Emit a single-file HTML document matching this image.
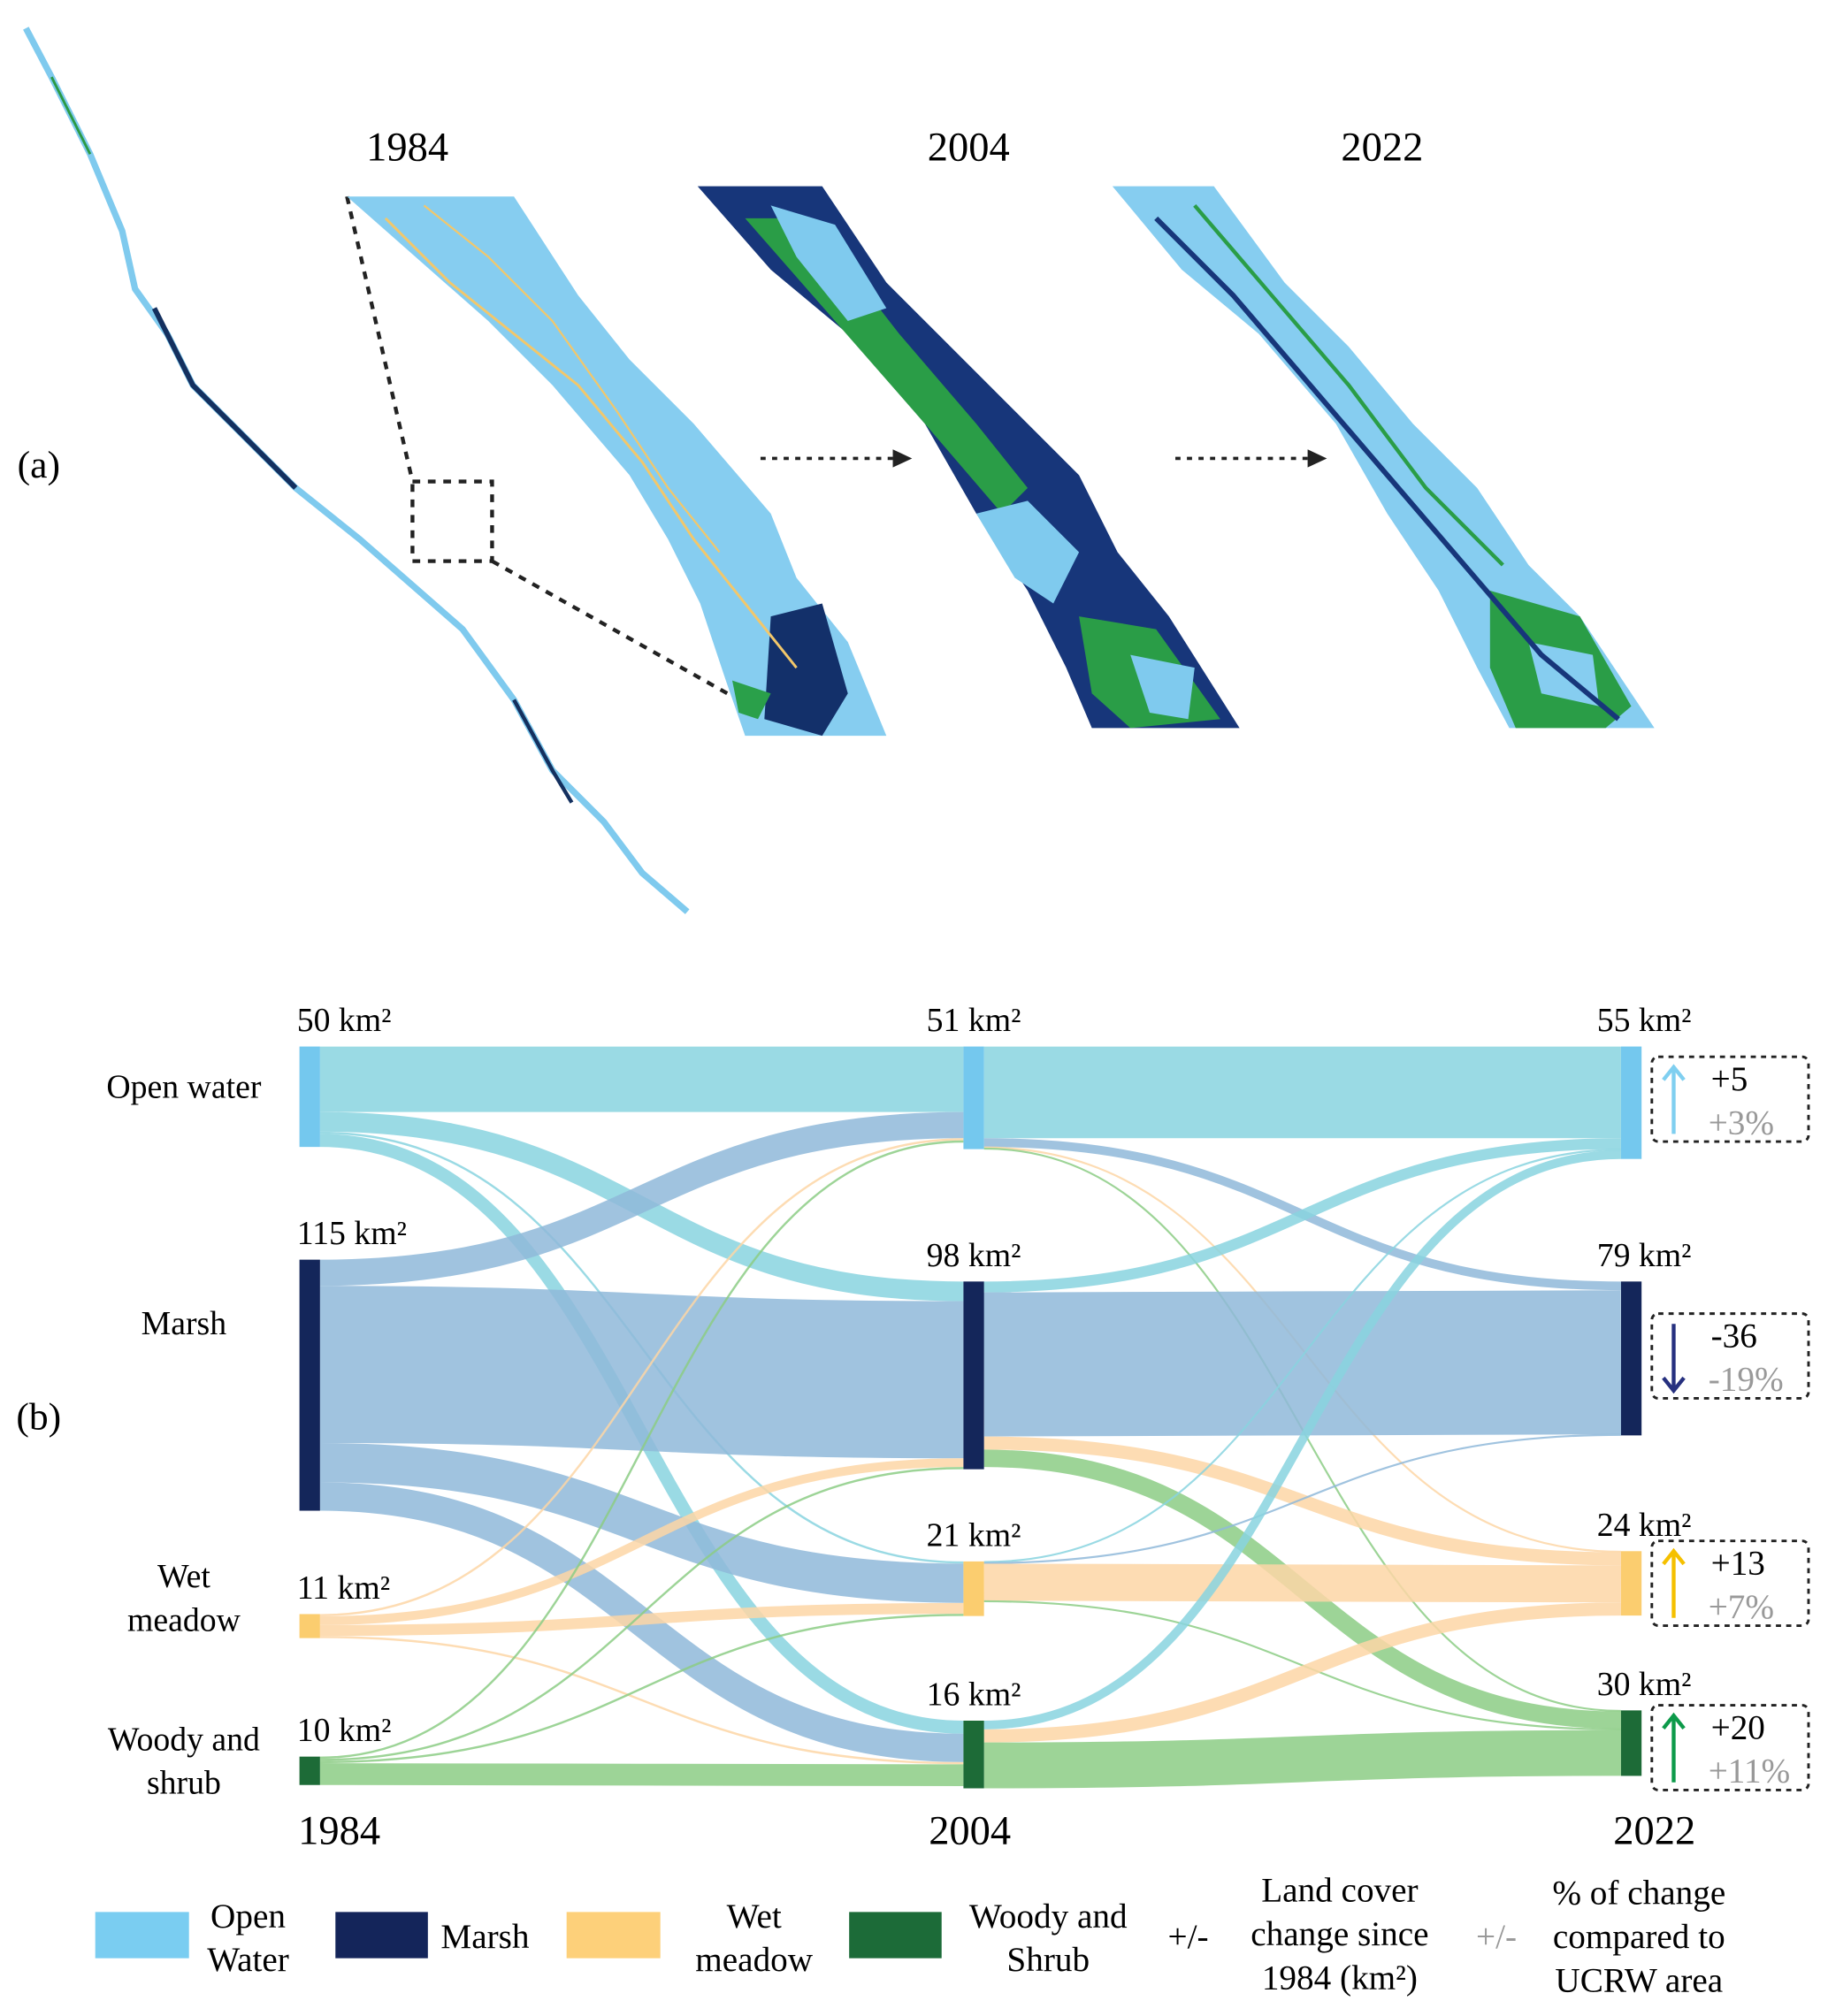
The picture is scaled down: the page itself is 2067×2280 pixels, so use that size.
<!DOCTYPE html>
<html><head><meta charset="utf-8"><style>
html,body{margin:0;padding:0;background:#fff;}
svg{display:block;font-family:"Liberation Serif",serif;}
</style></head><body>
<svg id="fig" width="2067" height="2280" viewBox="0 0 1423 1570" xmlns="http://www.w3.org/2000/svg">
<g id="panel-a">
  <text x="30" y="372" font-size="30" text-anchor="middle">(a)</text>
  <text x="317" y="125" font-size="32" text-anchor="middle">1984</text>
  <text x="754" y="125" font-size="32" text-anchor="middle">2004</text>
  <text x="1076" y="125" font-size="32" text-anchor="middle">2022</text>
  <g>
    <polyline points="20,22 40,60 70,120 95,180 105,225 130,260 150,300 180,330 230,380 280,420 320,455 360,490 400,545 430,600 470,640 500,680 535,710" fill="none" stroke="#7fcaee" stroke-width="5" stroke-linejoin="round"/>
    <polyline points="120,240 150,300 180,330 230,380" fill="none" stroke="#14305f" stroke-width="4"/>
    <polyline points="400,545 430,600 445,625" fill="none" stroke="#14305f" stroke-width="3"/>
    <polyline points="40,60 70,120" fill="none" stroke="#2a9a45" stroke-width="2"/>
  </g>
  <rect x="321" y="375" width="62" height="62" fill="none" stroke="#222" stroke-width="3" stroke-dasharray="6,6"/>
  <line x1="270" y1="153" x2="321" y2="375" stroke="#222" stroke-width="3" stroke-dasharray="6,6"/>
  <line x1="383" y1="437" x2="575" y2="545" stroke="#222" stroke-width="3" stroke-dasharray="6,6"/>
  <g>
    <polygon points="270,153 400,153 450,230 490,280 540,330 600,400 620,450 660,500 690,573 580,573 565,530 545,470 520,420 490,370 430,300 380,250" fill="#86cdf0"/>
    <polygon points="600,480 640,470 660,540 640,573 595,560" fill="#13306a"/>
    <polygon points="570,530 600,540 590,560 575,555" fill="#2aa04a"/>
    <polyline points="300,170 350,220 400,260 450,300 500,360 540,420 580,470 620,520" fill="none" stroke="#f3c76a" stroke-width="2"/>
    <polyline points="330,160 380,200 430,250 480,320 520,380 560,430" fill="none" stroke="#f3c76a" stroke-width="1.5"/>
  </g>
  <g>
    <polygon points="543,145 640,145 690,220 740,270 790,320 840,370 870,430 910,480 965,567 850,567 830,520 800,460 760,400 720,330 660,260 600,210" fill="#17367a"/>
    <polygon points="580,170 630,170 700,260 760,330 800,380 780,400 720,330 650,250" fill="#2a9d47"/>
    <polygon points="600,160 650,175 690,240 660,250 620,200" fill="#7fcaee"/>
    <polygon points="760,400 800,390 840,430 820,470 790,450" fill="#7fcaee"/>
    <polygon points="840,480 900,490 950,560 880,567 850,540" fill="#2a9d47"/>
    <polygon points="880,510 930,520 925,560 895,555" fill="#7fcaee"/>
  </g>
  <g>
    <polygon points="866,145 945,145 1000,220 1050,270 1100,330 1150,380 1190,440 1230,480 1288,567 1175,567 1150,520 1120,460 1080,400 1040,330 980,260 920,210" fill="#86cdf0"/>
    <polygon points="1160,460 1230,480 1270,550 1250,567 1180,567 1160,520" fill="#2a9d47"/>
    <polygon points="1190,500 1240,510 1245,550 1200,540" fill="#86cdf0"/>
    <polyline points="900,170 960,230 1020,300 1080,370 1140,440 1200,510 1260,560" fill="none" stroke="#17367a" stroke-width="4"/>
    <polyline points="930,160 990,230 1050,300 1110,380 1170,440" fill="none" stroke="#2a9d47" stroke-width="3"/>
  </g>
  <line x1="592" y1="357" x2="695" y2="357" stroke="#222" stroke-width="2.5" stroke-dasharray="4,5"/>
  <polygon points="695,350 710,357 695,364" fill="#222"/>
  <line x1="915" y1="357" x2="1018" y2="357" stroke="#222" stroke-width="2.5" stroke-dasharray="4,5"/>
  <polygon points="1018,350 1033,357 1018,364" fill="#222"/>
</g>
<text x="30" y="1113" font-size="30" text-anchor="middle">(b)</text>
<g id="links"></g>
<g id="nodes"></g>
<g id="labels"></g>
<g font-size="26" text-anchor="middle">
  <text x="143" y="855">Open water</text>
  <text x="143" y="1039">Marsh</text>
  <text x="143" y="1236">Wet</text>
  <text x="143" y="1270">meadow</text>
  <text x="143" y="1363">Woody and</text>
  <text x="143" y="1397">shrub</text>
</g>
<g font-size="32">
  <text x="232" y="1436">1984</text>
  <text x="755" y="1436" text-anchor="middle">2004</text>
  <text x="1320" y="1436" text-anchor="end">2022</text>
</g>
<g id="changes" font-size="27"></g>
<g font-size="27">
  <rect x="74" y="1489" width="73" height="36" fill="#7acdf1"/>
  <text x="193" y="1501" text-anchor="middle">Open</text>
  <text x="193" y="1535" text-anchor="middle">Water</text>
  <rect x="261" y="1489" width="72" height="36" fill="#14255a"/>
  <text x="343" y="1517">Marsh</text>
  <rect x="441" y="1489" width="73" height="36" fill="#fdd07a"/>
  <text x="587" y="1501" text-anchor="middle">Wet</text>
  <text x="587" y="1535" text-anchor="middle">meadow</text>
  <rect x="661" y="1489" width="72" height="36" fill="#1c6b38"/>
  <text x="816" y="1501" text-anchor="middle">Woody and</text>
  <text x="816" y="1535" text-anchor="middle">Shrub</text>
  <text x="925" y="1517" text-anchor="middle">+/-</text>
  <text x="1043" y="1481" text-anchor="middle">Land cover</text>
  <text x="1043" y="1515" text-anchor="middle">change since</text>
  <text x="1043" y="1549" text-anchor="middle">1984 (km²)</text>
  <text x="1165" y="1517" text-anchor="middle" fill="#999">+/-</text>
  <text x="1276" y="1483" text-anchor="middle">% of change</text>
  <text x="1276" y="1517" text-anchor="middle">compared to</text>
  <text x="1276" y="1551" text-anchor="middle">UCRW area</text>
</g>
</svg>
<script>
// ---- data ----
const categories = ["open-water","marsh","wet-meadow","woody-shrub"];
const years = ["1984","2004","2022"];
const flows1984to2004 = [[30,9,1,6],[12,72,18,13],[1,4,5,1],[1,1,1,10]];
const flows2004to2022 = [[42,4,0.5,0.5],[5,66,6,8],[0.5,0.5,17,0.5],[4,0,6,21]];
const totals1984 = [50,115,11,10];
const totals2004 = [51,98,21,16];
const totals2022 = [55,79,24,30];
const changeKm = ["+5","-36","+13","+20"];
const changePct = ["+3%","-19%","+7%","+11%"];
// ---- style / layout ----
const NS="http://www.w3.org/2000/svg";
const nodeColors=["#74c8ee","#14265a","#fbcd6f","#1d6b37"];
const linkColors=["#88d3df","#8fb8d9","#fdd6a6","#8ccd85"];
const arrowColors=["#7fcff0","#26307f","#f5c000","#0d9a4a"];
const colX=[233,750,1262], nodeW=16;
const nodeTop=[[815,981,1257,1368],[815,998,1216,1340],[815,998,1208,1332]];
const k=1.7;
const allTotals=[totals1984,totals2004,totals2022];
const links=document.getElementById('links'), nodes=document.getElementById('nodes'), labels=document.getElementById('labels');
function mk(tag,attrs,parent){const e=document.createElementNS(NS,tag);for(const a in attrs)e.setAttribute(a,attrs[a]);parent.appendChild(e);return e;}
function nodeH(c,i){
  if(c===0) return flows1984to2004[i].reduce((a,b)=>a+b,0)*k;
  if(c===1) return Math.max(flows1984to2004.reduce((s,r)=>s+r[i],0),flows2004to2022[i].reduce((a,b)=>a+b,0))*k;
  return flows2004to2022.reduce((s,r)=>s+r[i],0)*k;
}
function drawFlows(m,c,byTarget){
  const outOff=[0,0,0,0], inOff=[0,0,0,0];
  const segs=[];
  for(let s=0;s<4;s++)for(let t=0;t<4;t++){
    const w=m[s][t]*k;
    const y0=nodeTop[c][s]+outOff[s]+w/2; outOff[s]+=w;
    segs.push({s,t,w,y0});
  }
  for(let t=0;t<4;t++)for(let s=0;s<4;s++){
    const sg=segs.find(g=>g.s===s&&g.t===t);
    sg.y1=nodeTop[c+1][t]+inOff[t]+sg.w/2; inOff[t]+=sg.w;
  }
  segs.forEach(g=>{
    if(g.w<=0)return;
    const x0=colX[c]+nodeW, x1=colX[c+1], xm=(x0+x1)/2;
    const col=byTarget?linkColors[g.t]:linkColors[g.s];
    const p=mk('path',{d:`M${x0},${g.y0} C${xm},${g.y0} ${xm},${g.y1} ${x1},${g.y1}`,fill:'none',stroke:col,'stroke-width':Math.max(g.w,1.5),'stroke-opacity':0.85},links);
    
    
  });
}
drawFlows(flows1984to2004,0,false);
drawFlows(flows2004to2022,1,true);
for(let c=0;c<3;c++)for(let i=0;i<4;i++){
  const h=nodeH(c,i);
  const r=mk('rect',{x:colX[c],y:nodeTop[c][i],width:nodeW,height:h,fill:nodeColors[i]},nodes);
  
  
  const tx=c===0?colX[c]-2:(c===1?colX[c]+8:colX[c]+18);
  const t=mk('text',{x:tx,y:nodeTop[c][i]-12,'font-size':26,'text-anchor':c===0?'start':'middle'},labels);
  t.textContent=allTotals[c][i]+' km²';
  
  
}
const ch=document.getElementById('changes');
const boxTop=[823,1023,1200,1328];
for(let i=0;i<4;i++){
  const y=boxTop[i];
  const b=mk('rect',{x:1286,y:y,width:122,height:66,rx:5,fill:'none',stroke:'#222','stroke-width':2,'stroke-dasharray':'4,4'},ch);
  
  
  const up=changeKm[i][0]==='+';
  const ya=up?y+60:y+8, yb=up?y+8:y+60, d=up?1:-1;
  const a=mk('path',{d:`M1303,${ya} L1303,${yb} M1295,${yb+10*d} L1303,${yb} L1311,${yb+10*d}`,fill:'none',stroke:arrowColors[i],'stroke-width':3},ch);
  
  
  const t1=mk('text',{x:1332,y:y+26},ch); t1.textContent=changeKm[i];
  
  
  const t2=mk('text',{x:1330,y:y+60,fill:'#999'},ch); t2.textContent=changePct[i];
  
  
}
</script>
</body></html>
